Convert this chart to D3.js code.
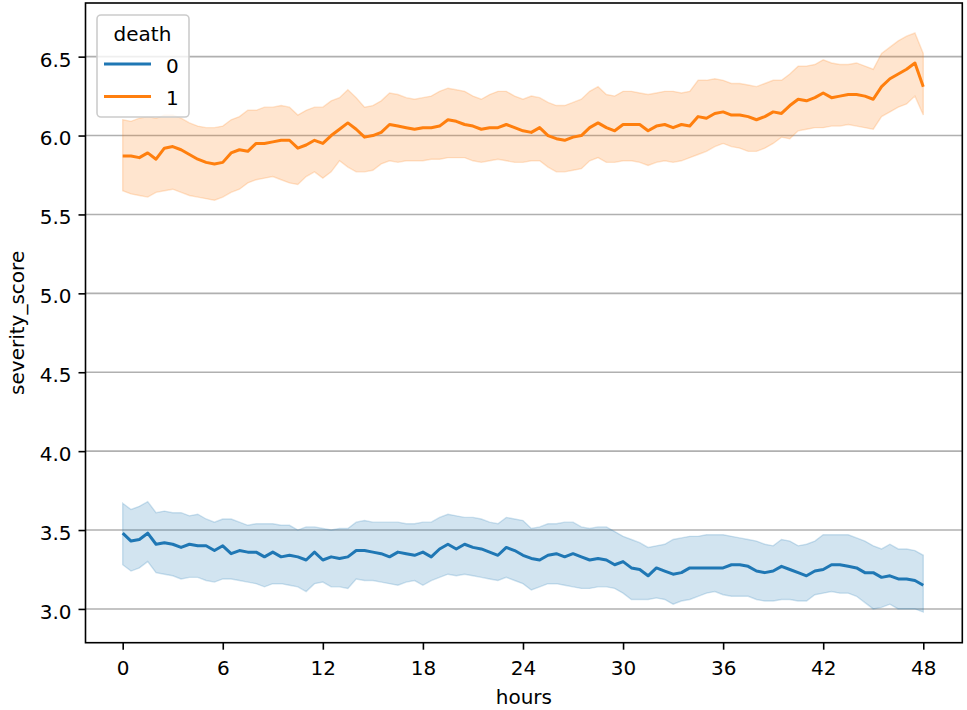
<!DOCTYPE html>
<html>
<head>
<meta charset="utf-8">
<script src="https://cdn.jsdelivr.net/npm/d3@7"></script>
<style>
  html, body { margin: 0; padding: 0; background: #ffffff; }
  svg { display: block; font-family: "DejaVu Sans", sans-serif; }
</style>
</head>
<body>
<svg id="chart" width="967" height="710"></svg>
<script>
// ---------------- data ----------------
const hours = [0,0.5,1,1.5,2,2.5,3,3.5,4,4.5,5,5.5,6,6.5,7,7.5,8,8.5,9,9.5,10,10.5,11,11.5,12,12.5,13,13.5,14,14.5,15,15.5,16,16.5,17,17.5,18,18.5,19,19.5,20,20.5,21,21.5,22,22.5,23,23.5,24,24.5,25,25.5,26,26.5,27,27.5,28,28.5,29,29.5,30,30.5,31,31.5,32,32.5,33,33.5,34,34.5,35,35.5,36,36.5,37,37.5,38,38.5,39,39.5,40,40.5,41,41.5,42,42.5,43,43.5,44,44.5,45,45.5,46,46.5,47,47.5,48];

const death0Mean = [3.48,3.43,3.44,3.48,3.41,3.42,3.41,3.39,3.41,3.40,3.40,3.37,3.40,3.35,3.37,3.36,3.36,3.33,3.36,3.33,3.34,3.33,3.31,3.36,3.31,3.33,3.32,3.33,3.37,3.37,3.36,3.35,3.33,3.36,3.35,3.34,3.36,3.33,3.38,3.41,3.38,3.41,3.39,3.38,3.36,3.34,3.39,3.37,3.34,3.32,3.31,3.34,3.35,3.33,3.35,3.33,3.31,3.32,3.31,3.28,3.30,3.26,3.25,3.21,3.26,3.24,3.22,3.23,3.26,3.26,3.26,3.26,3.26,3.28,3.28,3.27,3.24,3.23,3.24,3.27,3.25,3.23,3.21,3.24,3.25,3.28,3.28,3.27,3.26,3.23,3.23,3.20,3.21,3.19,3.19,3.18,3.15];
const death0Upper = [3.67,3.63,3.65,3.68,3.61,3.62,3.61,3.61,3.59,3.60,3.57,3.55,3.57,3.57,3.55,3.53,3.54,3.54,3.54,3.53,3.53,3.50,3.52,3.52,3.51,3.50,3.51,3.51,3.55,3.56,3.55,3.55,3.55,3.55,3.54,3.54,3.55,3.55,3.58,3.60,3.59,3.58,3.58,3.57,3.55,3.54,3.58,3.57,3.56,3.51,3.52,3.54,3.54,3.55,3.55,3.52,3.51,3.52,3.52,3.49,3.46,3.44,3.42,3.39,3.40,3.41,3.44,3.45,3.46,3.46,3.47,3.47,3.47,3.46,3.45,3.44,3.43,3.41,3.40,3.44,3.43,3.40,3.41,3.43,3.47,3.47,3.47,3.47,3.45,3.43,3.40,3.38,3.41,3.38,3.38,3.37,3.34];
const death0Lower = [3.28,3.24,3.26,3.30,3.23,3.22,3.21,3.19,3.20,3.20,3.18,3.17,3.19,3.19,3.18,3.17,3.16,3.14,3.16,3.16,3.15,3.14,3.11,3.16,3.17,3.14,3.14,3.13,3.19,3.18,3.18,3.17,3.16,3.15,3.17,3.18,3.15,3.18,3.20,3.22,3.21,3.22,3.21,3.20,3.19,3.18,3.20,3.18,3.16,3.12,3.14,3.16,3.16,3.15,3.14,3.13,3.13,3.14,3.14,3.13,3.10,3.06,3.06,3.06,3.07,3.06,3.03,3.05,3.06,3.08,3.10,3.11,3.09,3.08,3.08,3.08,3.06,3.05,3.05,3.06,3.06,3.05,3.05,3.09,3.10,3.11,3.10,3.10,3.08,3.04,3.00,3.01,3.03,3.00,3.00,3.00,2.98];

const death1Mean = [5.87,5.87,5.86,5.89,5.85,5.92,5.93,5.91,5.88,5.85,5.83,5.82,5.83,5.89,5.91,5.90,5.95,5.95,5.96,5.97,5.97,5.92,5.94,5.97,5.95,6.00,6.04,6.08,6.04,5.99,6.00,6.02,6.07,6.06,6.05,6.04,6.05,6.05,6.06,6.10,6.09,6.07,6.06,6.04,6.05,6.05,6.07,6.05,6.03,6.02,6.05,6.00,5.98,5.97,5.99,6.00,6.05,6.08,6.05,6.03,6.07,6.07,6.07,6.03,6.06,6.07,6.05,6.07,6.06,6.12,6.11,6.14,6.15,6.13,6.13,6.12,6.10,6.12,6.15,6.14,6.19,6.23,6.22,6.24,6.27,6.24,6.25,6.26,6.26,6.25,6.23,6.31,6.36,6.39,6.42,6.46,6.31];
const death1Upper = [6.10,6.09,6.11,6.12,6.11,6.13,6.13,6.11,6.08,6.06,6.05,6.05,6.06,6.10,6.12,6.16,6.16,6.18,6.18,6.19,6.18,6.13,6.16,6.18,6.18,6.22,6.24,6.29,6.24,6.18,6.19,6.22,6.27,6.26,6.24,6.23,6.24,6.25,6.28,6.30,6.29,6.28,6.25,6.23,6.26,6.28,6.28,6.25,6.23,6.25,6.24,6.21,6.19,6.19,6.21,6.23,6.28,6.31,6.26,6.25,6.28,6.28,6.27,6.26,6.27,6.28,6.28,6.27,6.28,6.35,6.35,6.36,6.35,6.33,6.33,6.32,6.31,6.33,6.35,6.35,6.39,6.44,6.44,6.45,6.48,6.46,6.45,6.45,6.46,6.44,6.42,6.52,6.56,6.60,6.63,6.65,6.52];
const death1Lower = [5.65,5.63,5.62,5.61,5.64,5.65,5.66,5.64,5.62,5.61,5.60,5.59,5.61,5.64,5.66,5.70,5.72,5.73,5.74,5.72,5.70,5.69,5.74,5.77,5.73,5.77,5.84,5.80,5.77,5.77,5.78,5.82,5.84,5.83,5.84,5.84,5.84,5.85,5.85,5.86,5.86,5.86,5.84,5.83,5.84,5.85,5.84,5.83,5.83,5.84,5.84,5.80,5.77,5.77,5.78,5.79,5.84,5.86,5.83,5.83,5.84,5.84,5.83,5.81,5.83,5.84,5.83,5.84,5.86,5.88,5.90,5.93,5.95,5.93,5.92,5.90,5.90,5.92,5.95,5.99,5.98,6.03,6.04,6.05,6.05,6.06,6.06,6.07,6.06,6.05,6.04,6.12,6.15,6.18,6.20,6.25,6.13];

const xTicks = [0, 6, 12, 18, 24, 30, 36, 42, 48];
const yTicks = [3.0, 3.5, 4.0, 4.5, 5.0, 5.5, 6.0, 6.5];
const seriesNames = ["0", "1"];
const seriesColors = ["#1f77b4", "#ff7f0e"];

// ---------------- layout ----------------
const svg = d3.select("#chart");
const plotLeft = 85.5, plotRight = 962.3, plotTop = 3, plotBottom = 642.7;
const FS = "20px";

const x = d3.scaleLinear().domain([-2.23, 50.34]).range([plotLeft, plotRight]);
const y = d3.scaleLinear().domain([2.786, 6.840]).range([plotBottom, plotTop]);

svg.append("rect").attr("width", 967).attr("height", 710).attr("fill", "#ffffff");

// grid (horizontal only)
svg.append("g")
  .selectAll("line")
  .data(yTicks)
  .join("line")
  .attr("x1", plotLeft).attr("x2", plotRight)
  .attr("y1", d => y(d)).attr("y2", d => y(d))
  .attr("stroke", "#b0b0b0").attr("stroke-width", 1.6);

const series = [
  { name: seriesNames[0], color: seriesColors[0], mean: death0Mean, lo: death0Lower, hi: death0Upper },
  { name: seriesNames[1], color: seriesColors[1], mean: death1Mean, lo: death1Lower, hi: death1Upper }
];

const area = d3.area()
  .x((d, i) => x(hours[i]))
  .y0(d => y(d[0]))
  .y1(d => y(d[1]));

const line = d3.line()
  .x((d, i) => x(hours[i]))
  .y(d => y(d));

const plot = svg.append("g");
series.forEach(s => {
  const band = s.lo.map((v, i) => [v, s.hi[i]]);
  plot.append("path")
    .attr("d", area(band))
    .attr("fill", s.color).attr("fill-opacity", 0.2)
    .attr("stroke", s.color).attr("stroke-opacity", 0.2).attr("stroke-width", 1.4);
});
series.forEach(s => {
  plot.append("path")
    .attr("d", line(s.mean))
    .attr("fill", "none")
    .attr("stroke", s.color).attr("stroke-width", 3)
    .attr("stroke-linejoin", "round").attr("stroke-linecap", "butt");
});

// axes
const xAxis = d3.axisBottom(x).tickValues(xTicks).tickSize(7).tickPadding(11).tickFormat(d3.format("d"));
const yAxis = d3.axisLeft(y).tickValues(yTicks).tickSize(7).tickPadding(7).tickFormat(d3.format(".1f"));

const gx = svg.append("g").attr("transform", `translate(0,${plotBottom})`).call(xAxis);
const gy = svg.append("g").attr("transform", `translate(${plotLeft},0)`).call(yAxis);
[gx, gy].forEach(g => {
  g.select(".domain").remove();
  g.selectAll(".tick line").attr("stroke", "#000").attr("stroke-width", 1.6);
  g.selectAll(".tick text").attr("fill", "#000").style("font-size", FS).style("font-family", "DejaVu Sans, sans-serif");
});
gy.selectAll(".tick text").attr("dy", "0.47em");

// spines
svg.append("rect")
  .attr("x", plotLeft).attr("y", plotTop)
  .attr("width", plotRight - plotLeft).attr("height", plotBottom - plotTop)
  .attr("fill", "none").attr("stroke", "#000").attr("stroke-width", 1.6);

// axis labels
svg.append("text")
  .attr("x", (plotLeft + plotRight) / 2).attr("y", 704)
  .attr("text-anchor", "middle")
  .style("font-size", FS).attr("fill", "#000")
  .text("hours");

svg.append("text")
  .attr("transform", `translate(24,${(plotTop + plotBottom) / 2}) rotate(-90)`)
  .attr("text-anchor", "middle")
  .style("font-size", FS).attr("fill", "#000")
  .text("severity_score");

// legend
const lg = svg.append("g");
lg.append("rect")
  .attr("x", 97).attr("y", 15).attr("width", 92).attr("height", 102)
  .attr("rx", 4).attr("ry", 4)
  .attr("fill", "#ffffff").attr("fill-opacity", 0.8)
  .attr("stroke", "#cccccc").attr("stroke-width", 1.6);
lg.append("text")
  .attr("x", 142.5).attr("y", 40.5)
  .attr("text-anchor", "middle")
  .style("font-size", FS).attr("fill", "#000")
  .text("death");
series.forEach((s, i) => {
  const yy = 64 + i * 32.5;
  lg.append("line")
    .attr("x1", 104).attr("x2", 151).attr("y1", yy).attr("y2", yy)
    .attr("stroke", s.color).attr("stroke-width", 3);
  lg.append("text")
    .attr("x", 166).attr("y", yy + 8.5)
    .style("font-size", FS).attr("fill", "#000")
    .text(s.name);
});
</script>
</body>
</html>
